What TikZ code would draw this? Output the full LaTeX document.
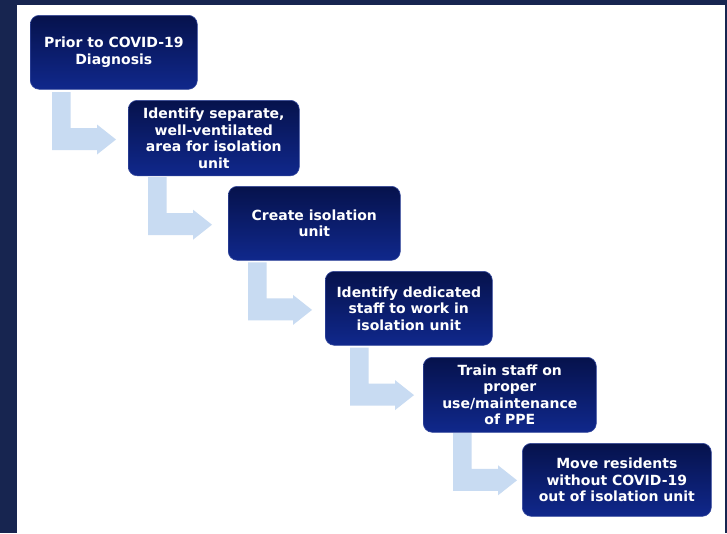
\documentclass[tikz,border=0pt]{standalone}
\usepackage{fontspec}
\setmainfont{DejaVu Sans}
\definecolor{framec}{RGB}{23,37,80}
\definecolor{boxtop}{RGB}{6,18,76}
\definecolor{boxbot}{RGB}{16,40,140}
\definecolor{arrowc}{RGB}{200,219,242}
\begin{document}
\begin{tikzpicture}[x=1pt,y=-1pt,
  stepbox/.style={rounded corners=9pt, top color=boxtop, bottom color=boxbot,
    draw=boxbot!85!white, line width=0.6pt, text=white, align=center, inner sep=0pt,
    anchor=north west, font=\bfseries\fontsize{14}{16.5}\selectfont},
  bentarrow/.style={fill=arrowc}]
\useasboundingbox (0,0) rectangle (727,533);
\fill[framec] (0,0) rectangle (727,533);
\fill[white] (17,5) rectangle (725,533);
% bent block arrows
\foreach \dx/\dy in {0/0, 96/85.2, 196/170.4, 298/255.6, 401/340.8}{
  \begin{scope}[shift={(\dx,\dy)}]
    \fill[bentarrow] (52,92) -- (70.5,92) -- (70.5,128) -- (97,128) -- (97,124.5)
      -- (116,139.5) -- (97,154.5) -- (97,150) -- (52,150) -- cycle;
  \end{scope}
}
\node[stepbox, minimum width=167pt, minimum height=74pt] (b1) at (30,15)
  {Prior to COVID-19\\Diagnosis};
\node[stepbox, minimum width=171pt, minimum height=75.5pt] (b2) at (128,100)
  {Identify separate,\\well-ventilated\\area for isolation\\unit};
\node[stepbox, minimum width=172pt, minimum height=74pt] (b3) at (228,186)
  {Create isolation\\unit};
\node[stepbox, minimum width=167pt, minimum height=74pt] (b4) at (325,271)
  {Identify dedicated\\staff to work in\\isolation unit};
\node[stepbox, minimum width=173pt, minimum height=75pt] (b5) at (423,357)
  {Train staff on\\proper\\use/maintenance\\of PPE};
\node[stepbox, minimum width=189pt, minimum height=73pt] (b6) at (522,443)
  {Move residents\\without COVID-19\\out of isolation unit};
\end{tikzpicture}
\end{document}
